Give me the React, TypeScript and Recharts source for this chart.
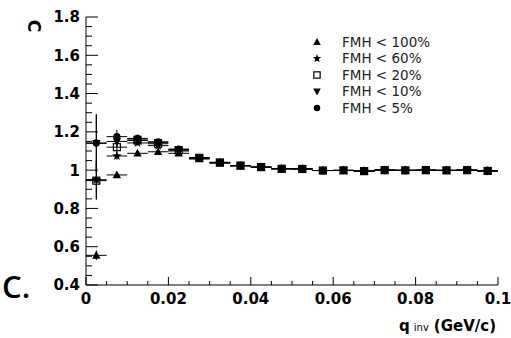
import React from "react";
import {
  ScatterChart,
  Scatter,
  XAxis,
  YAxis,
  ErrorBar,
  Legend,
} from "recharts";

// bin centres of q_inv (GeV/c)
const Q = [
  0.0025, 0.0075, 0.0125, 0.0175, 0.0225, 0.0275, 0.0325, 0.0375, 0.0425, 0.0475,
  0.0525, 0.0575, 0.0625, 0.0675, 0.0725, 0.0775, 0.0825, 0.0875, 0.0925, 0.0975,
];
const HALF_BIN = 0.0025;

// correlation C per FMH cut
const C_FMH100 = [0.555, 0.975, 1.088, 1.096, 1.088, 1.058, 1.036, 1.021, 1.014, 1.006, 1.006, 0.998, 0.998, 0.995, 1.0, 0.999, 0.999, 0.998, 1.0, 0.996];
const C_FMH60 = [0.95, 1.074, 1.142, 1.128, 1.1, 1.062, 1.039, 1.023, 1.015, 1.007, 1.006, 0.998, 0.998, 0.995, 1.0, 0.999, 1.0, 0.999, 1.0, 0.996];
const C_FMH20 = [0.945, 1.12, 1.155, 1.138, 1.104, 1.064, 1.04, 1.024, 1.016, 1.007, 1.006, 0.998, 0.999, 0.995, 1.0, 0.999, 1.0, 0.999, 1.0, 0.996];
const C_FMH10 = [1.14, 1.15, 1.162, 1.145, 1.108, 1.065, 1.04, 1.024, 1.016, 1.008, 1.007, 0.998, 0.999, 0.995, 1.0, 0.999, 1.0, 0.999, 1.0, 0.996];
const C_FMH5 = [1.142, 1.175, 1.166, 1.148, 1.11, 1.066, 1.041, 1.024, 1.016, 1.008, 1.007, 0.998, 0.999, 0.995, 1.001, 0.999, 1.0, 0.999, 1.0, 0.996];

// statistical errors
const E_FMH100 = [0.025, 0.012, 0.01, 0.008, 0.007, 0.006, 0.005, 0.005, 0.004, 0.004, 0.004, 0.004, 0.004, 0.004, 0.004, 0.004, 0.004, 0.004, 0.004, 0.004];
const E_FMH60 = [0.1, 0.02, 0.012, 0.01, 0.008, 0.007, 0.006, 0.005, 0.005, 0.004, 0.004, 0.004, 0.004, 0.004, 0.004, 0.004, 0.004, 0.004, 0.004, 0.004];
const E_FMH20 = [0.1, 0.025, 0.015, 0.011, 0.009, 0.007, 0.006, 0.005, 0.005, 0.004, 0.004, 0.004, 0.004, 0.004, 0.004, 0.004, 0.004, 0.004, 0.004, 0.004];
const E_FMH10 = [0.15, 0.03, 0.018, 0.012, 0.01, 0.008, 0.006, 0.005, 0.005, 0.005, 0.004, 0.004, 0.004, 0.004, 0.004, 0.004, 0.004, 0.004, 0.004, 0.004];
const E_FMH5 = [0.15, 0.035, 0.02, 0.014, 0.011, 0.008, 0.007, 0.006, 0.005, 0.005, 0.005, 0.004, 0.004, 0.004, 0.004, 0.004, 0.004, 0.004, 0.004, 0.004];

const X_MAJOR = [0, 0.02, 0.04, 0.06, 0.08, 0.1];
const Y_MAJOR = [0.4, 0.6, 0.8, 1, 1.2, 1.4, 1.6, 1.8];
const X_TICKS = Array.from({ length: 21 }, (_, i) => +(i * 0.005).toFixed(3));
const Y_TICKS = Array.from({ length: 29 }, (_, i) => +(0.4 + i * 0.05).toFixed(2));

const FONT = "'DejaVu Sans', Arial, sans-serif";

type Marker = "triUp" | "star" | "openSquare" | "triDown" | "circle";

const drawMarker = (m: Marker, cx: number, cy: number, s = 1) => {
  switch (m) {
    case "triUp":
      return <polygon points={`${cx},${cy - 4.5 * s} ${cx + 4.2 * s},${cy + 3.3 * s} ${cx - 4.2 * s},${cy + 3.3 * s}`} fill="#000" />;
    case "triDown":
      return <polygon points={`${cx},${cy + 4.5 * s} ${cx + 4.2 * s},${cy - 3.3 * s} ${cx - 4.2 * s},${cy - 3.3 * s}`} fill="#000" />;
    case "openSquare":
      return <rect x={cx - 3.5 * s} y={cy - 3.5 * s} width={7 * s} height={7 * s} fill="none" stroke="#000" strokeWidth={1.2} />;
    case "circle":
      return <circle cx={cx} cy={cy} r={3.6 * s} fill="#000" />;
    case "star": {
      const pts: string[] = [];
      for (let i = 0; i < 10; i++) {
        const r = (i % 2 === 0 ? 5 : 2.1) * s;
        const a = -Math.PI / 2 + (i * Math.PI) / 5;
        pts.push(`${cx + r * Math.cos(a)},${cy + r * Math.sin(a)}`);
      }
      return <polygon points={pts.join(" ")} fill="#000" />;
    }
  }
};

const build = (vals: number[], errs: number[]) =>
  Q.map((q, i) => ({ x: q, y: vals[i], ex: HALF_BIN, ey: errs[i] }));

const SERIES: { name: string; marker: Marker; data: ReturnType<typeof build> }[] = [
  { name: "FMH < 100%", marker: "triUp", data: build(C_FMH100, E_FMH100) },
  { name: "FMH < 60%", marker: "star", data: build(C_FMH60, E_FMH60) },
  { name: "FMH < 20%", marker: "openSquare", data: build(C_FMH20, E_FMH20) },
  { name: "FMH < 10%", marker: "triDown", data: build(C_FMH10, E_FMH10) },
  { name: "FMH < 5%", marker: "circle", data: build(C_FMH5, E_FMH5) },
];

const fmt = (v: number) => String(+v.toFixed(2));

const YTick = (props: any) => {
  const { x, y, payload } = props;
  const v = +payload.value.toFixed(2);
  const major = Y_MAJOR.some((m) => Math.abs(m - v) < 1e-6);
  const ax = x + 6;
  return (
    <g>
      <line x1={ax} x2={ax + (major ? 12 : 6)} y1={y} y2={y} stroke="#000" strokeWidth={1} />
      {major && (
        <text x={x} y={y} dy="0.36em" textAnchor="end" fontFamily={FONT} fontWeight="bold" fontSize={15} fill="#000">
          {fmt(v)}
        </text>
      )}
    </g>
  );
};

const XTick = (props: any) => {
  const { x, y, payload } = props;
  const v = +payload.value.toFixed(3);
  const major = X_MAJOR.some((m) => Math.abs(m - v) < 1e-6);
  const ay = y - 8;
  return (
    <g>
      <line x1={x} x2={x} y1={ay} y2={ay - (major ? 8 : 4)} stroke="#000" strokeWidth={1} />
      {major && (
        <text x={x} y={y} dy="0.71em" textAnchor="middle" fontFamily={FONT} fontWeight="bold" fontSize={15} fill="#000">
          {fmt(v)}
        </text>
      )}
    </g>
  );
};

const LegendBox = () => (
  <svg width={180} height={90}>
    {SERIES.map((s, i) => (
      <g key={s.name}>
        {drawMarker(s.marker, 8, 8 + i * 16.5, 0.9)}
        <text x={33} y={8 + i * 16.5} dy="0.36em" fontFamily={FONT} fontSize={13.5} fill="#222">
          {s.name}
        </text>
      </g>
    ))}
  </svg>
);

export default function App() {
  return (
    <div style={{ position: "absolute", left: 0, top: 0, width: 511, height: 338, background: "#fff" }}>
      <ScatterChart width={511} height={338} margin={{ top: 17, right: 13, bottom: 23, left: 46 }}>
        <XAxis
          dataKey="x"
          type="number"
          domain={[0, 0.1]}
          ticks={X_TICKS}
          interval={0}
          tickSize={0}
          tickMargin={8}
          tickLine={false}
          tick={<XTick />}
          height={30}
          axisLine={{ stroke: "#000" }}
          allowDataOverflow
          label={{
            content: () => (
              <text x={496} y={331} textAnchor="end" fontFamily={FONT} fontWeight="bold" fontSize={15} fill="#000">
                q
                <tspan fontSize={10} fontWeight="normal" dx={4}>inv</tspan>
                <tspan dx={5}>(GeV/c)</tspan>
              </text>
            ),
          }}
        />
        <XAxis xAxisId="top" orientation="top" type="number" domain={[0, 0.1]} height={0} tick={false} tickLine={false} axisLine={{ stroke: "#000" }} />
        <YAxis
          dataKey="y"
          type="number"
          domain={[0.4, 1.8]}
          ticks={Y_TICKS}
          interval={0}
          tickSize={0}
          tickMargin={6}
          tickLine={false}
          tick={<YTick />}
          width={40}
          axisLine={{ stroke: "#000" }}
          allowDataOverflow
        />
        <YAxis yAxisId="right" orientation="right" type="number" domain={[0.4, 1.8]} width={0} tick={false} tickLine={false} axisLine={{ stroke: "#000" }} />
        {SERIES.map((s) => (
          <Scatter
            key={s.name}
            name={s.name}
            data={s.data}
            isAnimationActive={false}
            shape={(p: any) => drawMarker(s.marker, p.cx, p.cy)}
          >
            <ErrorBar dataKey="ex" direction="x" width={0} stroke="#000" strokeWidth={1} isAnimationActive={false} />
            <ErrorBar dataKey="ey" direction="y" width={0} stroke="#000" strokeWidth={1} isAnimationActive={false} />
          </Scatter>
        ))}
        <Legend
          layout="vertical"
          align="center"
          verticalAlign="middle"
          content={() => <LegendBox />}
          wrapperStyle={{ position: "absolute", left: 309, top: 34, width: 180, height: 90 }}
        />
      </ScatterChart>
      {/* rotated y-axis title */}
      <div
        style={{
          position: "absolute",
          left: 24,
          top: 14,
          width: 20,
          height: 24,
          lineHeight: "24px",
          textAlign: "center",
          fontFamily: FONT,
          fontWeight: "bold",
          fontSize: 17,
          color: "#000",
          transform: "rotate(90deg)",
        }}
      >
        C
      </div>
      {/* panel label */}
      <svg width={70} height={70} style={{ position: "absolute", left: 0, top: 250 }}>
        <text x={2} y={48} fontFamily="'Open Sans', sans-serif" fontWeight={600} fontSize={31} fill="#000">
          C.
        </text>
      </svg>
    </div>
  );
}
